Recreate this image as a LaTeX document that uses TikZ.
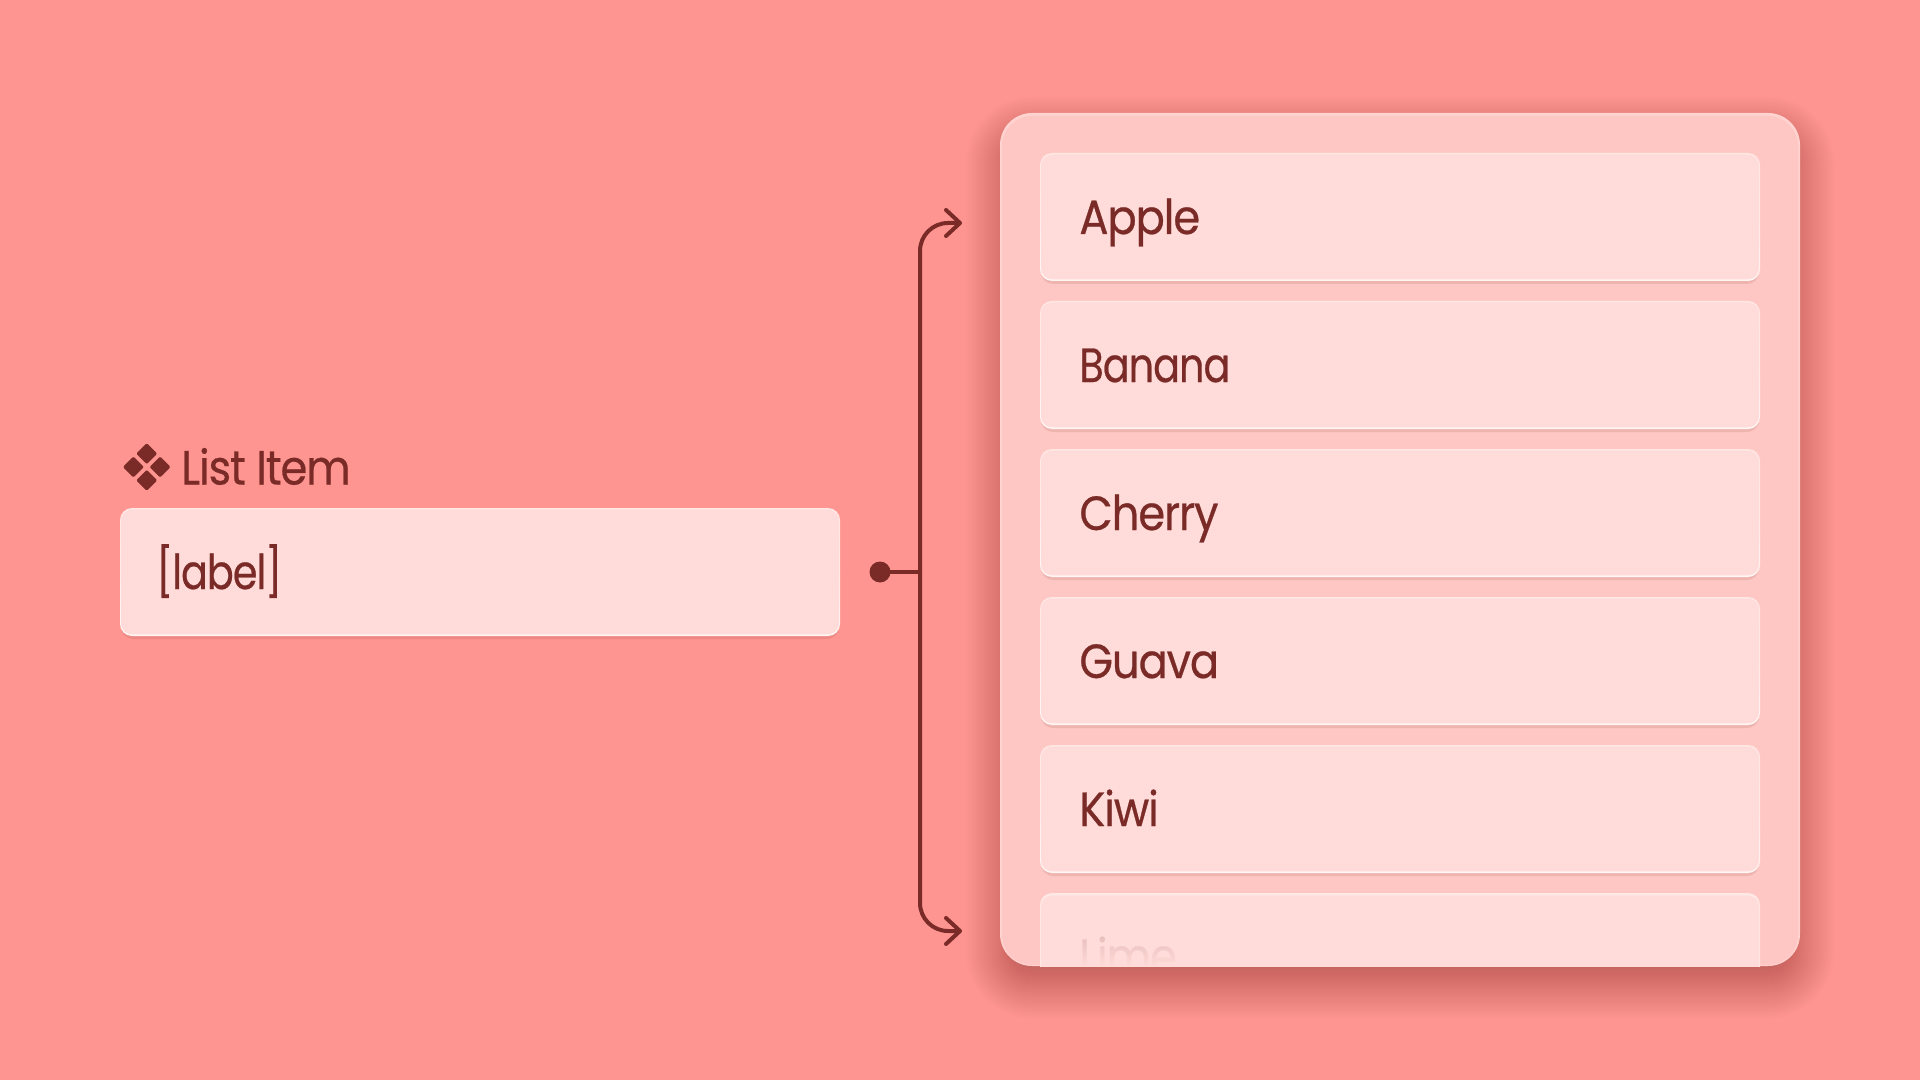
\documentclass[tikz,border=0pt]{standalone}
\usepackage{fontspec}
\setmainfont[LetterSpace=-2.2,FakeStretch=0.9,FakeBold=0.5]{Poppins}
\usetikzlibrary{arrows.meta}
\definecolor{bgc}{HTML}{FF9590}
\definecolor{panelc}{HTML}{FFC7C3}
\definecolor{panelhi}{HTML}{FFD3CF}
\definecolor{itemc}{HTML}{FFDCD9}
\definecolor{itemhi}{HTML}{FFF6F4}
\definecolor{itemtop}{HTML}{FFE8E5}
\definecolor{inkc}{HTML}{7A2B27}
\tikzset{
  x=0.5pt,y=-0.5pt,
  itemlabel/.style={anchor=base west,inner sep=0pt,text=inkc,font=\fontsize{24}{28}\selectfont},
  headlabel/.style={anchor=base west,inner sep=0pt,text=inkc,font=\fontsize{24}{28}\selectfont},
  wire/.style={draw=inkc,line width=2pt,rounded corners=14pt},
  arrowwire/.style={wire,-{Straight Barb[length=7pt,width=13pt,line width=2pt,round]}},
  dotnode/.style={circle,fill=inkc,inner sep=0pt,minimum size=10.5pt},
  itembox/.style={minimum width=359pt,minimum height=62.4pt,inner sep=0pt,rounded corners=5.5pt,fill=itemc},
}
% #1 left x, #2 top y
\newcommand{\cardback}[2]{%
  \fill[inkc,opacity=.12,rounded corners=6pt] (#1+1,#2+3) rectangle (#1+719,#2+131);
  \shade[top color=itemtop,bottom color=itemhi,middle color=itemtop!70!itemhi,rounded corners=6pt] (#1,#2) rectangle (#1+720,#2+128);
}
% #1 extra label options, #2 name, #3 top y, #4 label
\newcommand{\itemcard}[4][]{%
  \cardback{1040}{#3}
  \node[itembox] (#2) at (1400,#3+63.9) {};
  \node[itemlabel,#1] (#2t) at (1079,#3+81) {#4};
}
\begin{document}
\begin{tikzpicture}
\useasboundingbox (0,0) rectangle (1920,1080);
\fill[bgc] (0,0) rectangle (1920,1080);

% panel shadow
\foreach \e in {-36,-34,...,34}{
  \pgfmathsetmacro{\rr}{max(2,(32+\e)*0.5)}
  \fill[inkc,opacity=.014,rounded corners=\rr pt] (1000-\e,131-\e) rectangle (1800+\e,984+\e);
}
% panel
\fill[panelhi,rounded corners=16pt] (1000,113) rectangle (1800,966);
\fill[panelc,rounded corners=15pt] (1002,116) rectangle (1798,965);

% list items
\itemcard{apple}{153}{Apple}
\itemcard[xscale=.92,transform shape]{banana}{301}{Banana}
\itemcard{cherry}{449}{Cherry}
\itemcard{guava}{597}{Guava}
\itemcard{kiwi}{745}{Kiwi}

% last item, cut off by the panel
\begin{scope}
  \clip (1000,880) rectangle (1800,966);
  \fill[itemtop,rounded corners=6pt] (1040,893) rectangle (1760,1030);
  \node[itembox] (lime) at (1400,958) {};
  \node[itemlabel] (limet) at (1079,973) {Lime};
  \foreach \s in {0,2,...,38}{
    \pgfmathsetmacro{\op}{.80+.20*\s/38}
    \fill[itemc,opacity=\op] (1070,928+\s) rectangle (1200,930+\s);
  }
\end{scope}

% source box
\cardback{120}{508}
\node[itembox] (source) at (480,571.9) {};
\node[itemlabel,xscale=.92,transform shape] (sourcet) at (156,589) {[label]};

% heading
\fill[inkc,rounded corners=.6pt] (146.7,443.2) -- (157.2,453.7) -- (146.7,464.2) -- (136.2,453.7) -- cycle;
\fill[inkc,rounded corners=.6pt] (146.7,469.8) -- (157.2,480.3) -- (146.7,490.8) -- (136.2,480.3) -- cycle;
\fill[inkc,rounded corners=.6pt] (133.4,456.5) -- (143.9,467) -- (133.4,477.5) -- (122.9,467) -- cycle;
\fill[inkc,rounded corners=.6pt] (160,456.5) -- (170.5,467) -- (160,477.5) -- (149.5,467) -- cycle;
\node[headlabel] (headt) at (181,484.5) {List Item};

% connector
\node[dotnode] (dot) at (880,572) {};
\coordinate (junction) at (920,572);
\coordinate (topend) at (962,223);
\coordinate (botend) at (962,931);
\draw[draw=inkc,line width=2pt] (dot.center) -- (junction);
\draw[arrowwire] (junction) |- (topend);
\draw[arrowwire] (junction) |- (botend);
\end{tikzpicture}
\end{document}
